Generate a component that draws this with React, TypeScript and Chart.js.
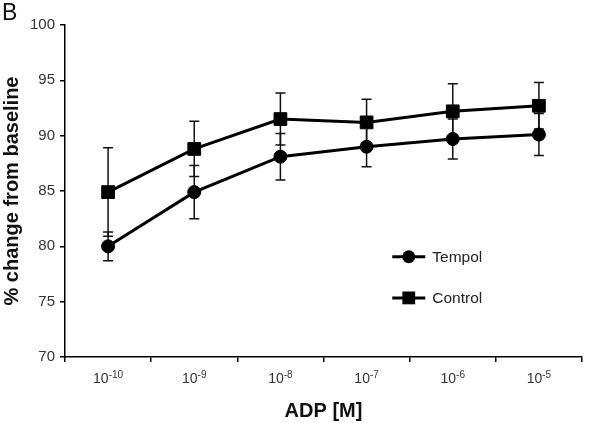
import React, { useEffect, useRef } from "react";
import { Chart, registerables } from "chart.js";

Chart.register(...registerables);

const exponents = ["-10", "-9", "-8", "-7", "-6", "-5"];
const categories = exponents.map((e) => "10^" + e);
const tempolMean = [80.0, 84.9, 88.1, 89.0, 89.7, 90.1];
const tempolErr = [1.3, 2.4, 2.1, 1.8, 1.8, 1.9];
const controlMean = [84.9, 88.8, 91.5, 91.2, 92.2, 92.7];
const controlErr = [4.0, 2.5, 2.35, 2.1, 2.5, 2.1];
const yTicks = [70, 75, 80, 85, 90, 95, 100];

const FONT = "'Liberation Sans', Arial, sans-serif";

const errorBars = {
  id: "errorBars",
  beforeDatasetsDraw(chart: any) {
    const ctx = chart.ctx;
    const ys = chart.scales.y;
    const errs = [tempolErr, controlErr];
    ctx.save();
    ctx.strokeStyle = "#111";
    ctx.lineWidth = 1.5;
    chart.data.datasets.forEach((ds: any, di: number) => {
      const meta = chart.getDatasetMeta(di);
      meta.data.forEach((pt: any, i: number) => {
        const v = ds.data[i];
        const e = errs[di][i];
        const x = pt.x;
        const yt = ys.getPixelForValue(v + e);
        const yb = ys.getPixelForValue(v - e);
        ctx.beginPath();
        ctx.moveTo(x, yt);
        ctx.lineTo(x, yb);
        ctx.moveTo(x - 5, yt);
        ctx.lineTo(x + 5, yt);
        ctx.moveTo(x - 5, yb);
        ctx.lineTo(x + 5, yb);
        ctx.stroke();
      });
    });
    ctx.restore();
  },
};

const extras = {
  id: "extras",
  afterDraw(chart: any) {
    const ctx = chart.ctx;
    const ca = chart.chartArea;
    const xs = chart.scales.x;
    ctx.save();
    ctx.fillStyle = "#111";
    ctx.font = `23px ${FONT}`;
    ctx.textBaseline = "top";
    ctx.textAlign = "left";
    ctx.fillText("B", 2, 2);

    // x tick labels with superscript exponents
    ctx.fillStyle = "#333";
    ctx.textBaseline = "alphabetic";
    const baseY = ca.bottom + 26;
    exponents.forEach((ex, i) => {
      const cx = xs.getPixelForTick(i);
      ctx.font = `14px ${FONT}`;
      const w1 = ctx.measureText("10").width;
      ctx.font = `10px ${FONT}`;
      const w2 = ctx.measureText(ex).width;
      const x0 = cx - (w1 + w2) / 2;
      ctx.font = `14px ${FONT}`;
      ctx.fillText("10", x0, baseY);
      ctx.font = `10px ${FONT}`;
      ctx.fillText(ex, x0 + w1, baseY - 5);
    });

    // legend
    const items = [
      { label: "Tempol", style: "circle", r: 6.5 },
      { label: "Control", style: "rect", r: 6.4 },
    ];
    const lx0 = ca.left + (ca.right - ca.left) * 0.633;
    const lx1 = lx0 + 33;
    const tops = [ca.top + (ca.bottom - ca.top) * 0.698, ca.top + (ca.bottom - ca.top) * 0.822];
    items.forEach((it, i) => {
      const y = tops[i];
      const cx = (lx0 + lx1) / 2;
      ctx.strokeStyle = "#000";
      ctx.lineWidth = 3;
      ctx.beginPath();
      ctx.moveTo(lx0, y);
      ctx.lineTo(lx1, y);
      ctx.stroke();
      ctx.fillStyle = "#000";
      ctx.beginPath();
      if (it.style === "circle") {
        ctx.arc(cx, y, it.r, 0, Math.PI * 2);
      } else {
        ctx.rect(cx - it.r, y - it.r, it.r * 2, it.r * 2);
      }
      ctx.fill();
      ctx.fillStyle = "#222";
      ctx.font = `15.5px ${FONT}`;
      ctx.textBaseline = "middle";
      ctx.fillText(it.label, lx1 + 7, y + 1);
    });
    ctx.restore();
  },
};

export default function App() {
  const ref = useRef<HTMLCanvasElement | null>(null);
  useEffect(() => {
    if (!ref.current) return;
    const chart = new Chart(ref.current, {
      type: "line",
      data: {
        labels: categories,
        datasets: [
          {
            label: "Tempol",
            data: tempolMean,
            borderColor: "#000",
            backgroundColor: "#000",
            borderWidth: 3,
            pointStyle: "circle",
            pointRadius: 6.5,
            pointBorderWidth: 1,
            tension: 0,
          },
          {
            label: "Control",
            data: controlMean,
            borderColor: "#000",
            backgroundColor: "#000",
            borderWidth: 3,
            pointStyle: "rect",
            pointRadius: 9,
            pointBorderWidth: 1,
            tension: 0,
          },
        ],
      },
      options: {
        animation: false,
        responsive: false,
        layout: { padding: { top: 25, right: 18, left: 0, bottom: 0 } },
        plugins: { legend: { display: false }, tooltip: { enabled: false } },
        scales: {
          x: {
            offset: true,
            grid: { offset: true, drawOnChartArea: false, drawTicks: true, tickLength: 5, color: "#000", lineWidth: 1.5 },
            border: { display: true, color: "#000", width: 1.5 },
            ticks: { color: "rgba(0,0,0,0)", font: { family: FONT, size: 14 }, padding: 8, maxRotation: 0 },
            title: {
              display: true,
              text: "ADP [M]",
              color: "#111",
              font: { family: FONT, size: 20, weight: "bold" },
              padding: { top: 10, bottom: 0 },
            },
            afterFit(scale: any) {
              scale.height = 66;
            },
          },
          y: {
            min: 70,
            max: 100,
            afterBuildTicks(scale: any) {
              scale.ticks = yTicks.map((v) => ({ value: v }));
            },
            grid: { drawOnChartArea: false, drawTicks: true, tickLength: 5, color: "#000", lineWidth: 1.5 },
            border: { display: true, color: "#000", width: 1.5 },
            ticks: { color: "#333", font: { family: FONT, size: 15 }, padding: 5 },
            title: {
              display: true,
              text: "% change from baseline",
              color: "#111",
              font: { family: FONT, size: 20, weight: "bold" },
              padding: { top: 0, bottom: 0 },
            },
            afterFit(scale: any) {
              scale.width = 65;
            },
          },
        },
      },
      plugins: [errorBars, extras],
    } as any);
    return () => chart.destroy();
  }, []);
  return (
    <div style={{ position: "fixed", left: 0, top: 0, width: 600, height: 423, background: "#fff" }}>
      <canvas ref={ref} width={600} height={423} />
    </div>
  );
}
